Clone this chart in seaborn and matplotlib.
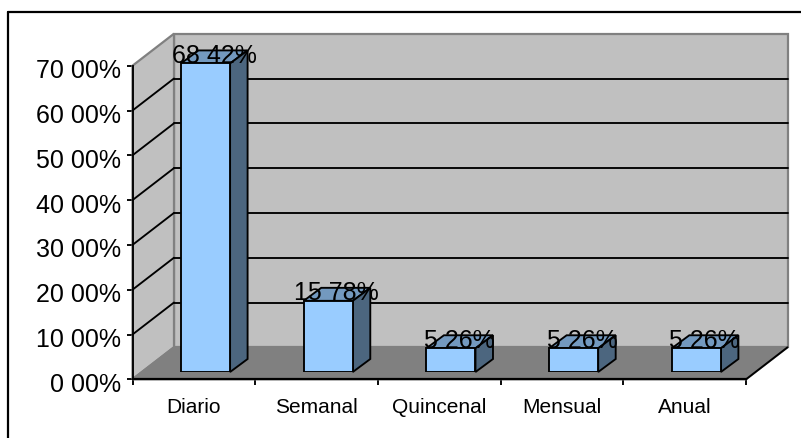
import matplotlib
matplotlib.use("Agg")
import matplotlib.pyplot as plt
import pandas as pd
import seaborn as sns
from matplotlib.lines import Line2D
from matplotlib.patches import Polygon
from matplotlib.transforms import ScaledTranslation

categories = ["Diario", "Semanal", "Quincenal", "Mensual", "Anual"]
percentages = [68.42, 15.78, 5.26, 5.26, 5.26]
axis_ticks = [0, 10, 20, 30, 40, 50, 60, 70]

WIDTH, HEIGHT, DPI = 801, 438, 100

WALL = "#C0C0C0"
FLOOR = "#808080"
BAR_FRONT = "#99CCFF"
BAR_TOP = "#7399BF"
BAR_SIDE = "#4C667F"
LINE_W = 1.35
HEAVY_W = 1.6

sns.set_theme(style="white")
plt.rcParams["font.family"] = ["Liberation Sans", "DejaVu Sans"]


def rect(left, top, right, bottom):
    """Pixel box (origin top-left) as a figure-fraction axes rectangle."""
    return [left / WIDTH, 1 - bottom / HEIGHT, (right - left) / WIDTH, (bottom - top) / HEIGHT]


def shift(fig, dx, dy):
    """Display offset in pixels, used to fake depth along the oblique axis."""
    return ScaledTranslation(dx / DPI, dy / DPI, fig.dpi_scale_trans)


def pct_label(value):
    return f"{value:.2f}".replace(".", " ") + "%"


fig = plt.figure(figsize=(WIDTH / DPI, HEIGHT / DPI), dpi=DPI, facecolor="white")

# Outer chart frame
fig.add_artist(Line2D([8 / WIDTH, 8 / WIDTH], [0, 1 - 12 / HEIGHT], color="black", lw=HEAVY_W))
fig.add_artist(Line2D([8 / WIDTH, 1], [1 - 12 / HEIGHT, 1 - 12 / HEIGHT], color="black", lw=HEAVY_W))

# Front plane: carries the axes, ticks and the near edge of the box
ax = fig.add_axes(rect(132.5, 65.7, 746, 379.3))
ax.set_xlim(-0.5, 4.5)
ax.set_ylim(0, 70)
ax.patch.set_visible(False)
for side in ("top", "right"):
    ax.spines[side].set_visible(False)
ax.spines["left"].set_color("black")
ax.spines["left"].set_linewidth(LINE_W)
ax.spines["bottom"].set_color("black")
ax.spines["bottom"].set_linewidth(HEAVY_W)

back = ax.transData + shift(fig, 41.5, 32)
front = ax.transData


def plane_quad(p, q):
    """Face spanned between the front and back planes along the edge p-q."""
    return Polygon([front.transform(p), front.transform(q), back.transform(q), back.transform(p)],
                   transform=None)


wall_back = Polygon([(-0.5, 0), (-0.5, 70), (4.5, 70), (4.5, 0)], transform=back,
                    facecolor=WALL, edgecolor=FLOOR, lw=HEAVY_W, zorder=1, clip_on=False)
ax.add_patch(wall_back)

for quad, color in (
    (plane_quad((-0.5, 0), (-0.5, 70)), WALL),
    (plane_quad((-0.5, 0), (4.5, 0)), FLOOR),
):
    quad.set(facecolor=color, edgecolor=FLOOR, lw=HEAVY_W, zorder=1, clip_on=False)
    ax.add_patch(quad)

# Grid lines run along the left wall and then across the back wall
for tick in axis_ticks[1:-1]:
    ax.plot([-0.5, 4.5], [tick, tick], transform=back, color="black", lw=LINE_W,
            zorder=2, clip_on=False)
    a, b = front.transform((-0.5, tick)), back.transform((-0.5, tick))
    ax.add_line(Line2D([a[0], b[0]], [a[1], b[1]], transform=None, color="black",
                       lw=LINE_W, zorder=2, clip_on=False))

# Near-right edge of the floor
a, b = front.transform((4.5, 0)), back.transform((4.5, 0))
ax.add_line(Line2D([a[0], b[0]], [a[1], b[1]], transform=None, color="black",
                   lw=LINE_W, zorder=3, clip_on=False))

ax.set_yticks(axis_ticks)
ax.set_yticklabels([pct_label(t) for t in axis_ticks], fontsize=18, color="black")
ax.set_xticks([i - 0.5 for i in range(6)])
ax.set_xticklabels([])
ax.tick_params(axis="both", direction="out", length=4.5, width=LINE_W, color="black",
               left=True, bottom=True)
ax.tick_params(axis="y", pad=4)
for label in ax.get_yticklabels():
    label.set_transform(label.get_transform() + shift(fig, 0, -3))

# Category names sit below the tick gaps
for i, name in enumerate(categories):
    ax.annotate(name, xy=(i, 0), xycoords="data", xytext=(0, -34 * 72 / DPI),
                textcoords="offset points", ha="center", va="baseline",
                fontsize=15, color="black")

# Bars live on their own plane, a little inside the box
bar_ax = fig.add_axes(rect(132.5 + 11.7, 372 - 4.51 * 70, 746 + 11.7, 372))
data = pd.DataFrame({"periodo": categories, "porcentaje": percentages})
sns.barplot(data=data, x="periodo", y="porcentaje", color=BAR_FRONT, saturation=1,
            width=0.4, edgecolor="black", linewidth=LINE_W, ax=bar_ax, zorder=3)
bar_ax.set_xlim(-0.5, 4.5)
bar_ax.set_ylim(0, 70)
bar_ax.axis("off")
bar_ax.patch.set_visible(False)

DEPTH_X, DEPTH_Y = 17.5, 13
to_px = bar_ax.transData
for patch in list(bar_ax.patches):
    x0, w, h = patch.get_x(), patch.get_width(), patch.get_height()
    bl, br = to_px.transform((x0, 0)), to_px.transform((x0 + w, 0))
    tl, tr = to_px.transform((x0, h)), to_px.transform((x0 + w, h))
    d = (DEPTH_X, DEPTH_Y)
    bar_ax.add_patch(Polygon([tl, tr, tr + d, tl + d], transform=None, facecolor=BAR_TOP,
                             edgecolor="black", lw=LINE_W, zorder=2, clip_on=False))
    bar_ax.add_patch(Polygon([br, tr, tr + d, br + d], transform=None, facecolor=BAR_SIDE,
                             edgecolor="black", lw=LINE_W, zorder=2, clip_on=False))

for i, value in enumerate(percentages):
    bar_ax.annotate(pct_label(value), xy=(i, value), xycoords="data",
                    xytext=(8.5 * 72 / DPI, 0.5 * 72 / DPI), textcoords="offset points",
                    ha="center", va="baseline", fontsize=18, color="black",
                    annotation_clip=False, zorder=5)

fig.savefig("out.png", dpi=DPI)
